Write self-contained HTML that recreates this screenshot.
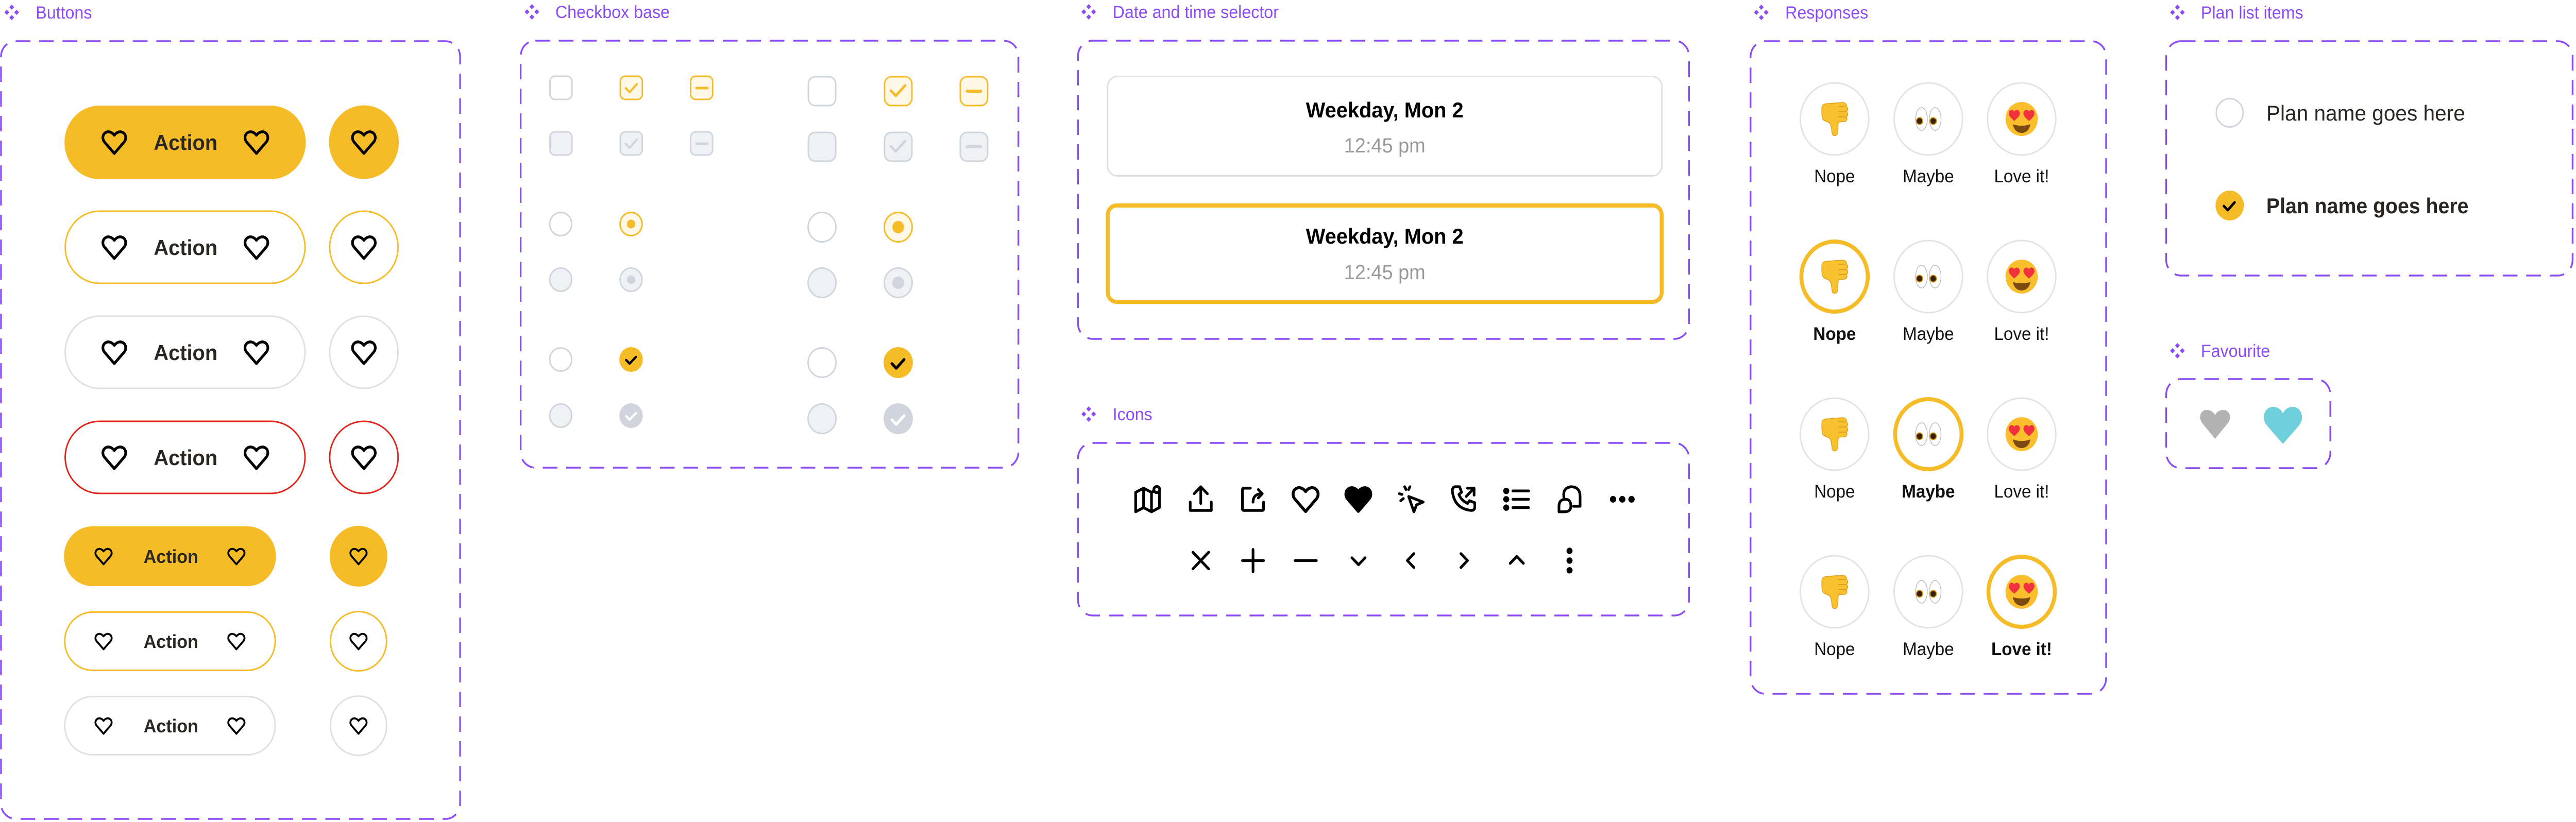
<!DOCTYPE html>
<html><head><meta charset="utf-8">
<style>
html,body{margin:0;padding:0;background:#fff;width:100%;height:100%;overflow:hidden;}
svg{display:block;position:absolute;left:0;top:0;width:100vw;height:100vh;}
text{font-family:"Liberation Sans",sans-serif;}
</style></head>
<body>
<svg viewBox="0 0 5274 1596" preserveAspectRatio="none" xmlns="http://www.w3.org/2000/svg">
<defs>
<symbol id="heart" viewBox="0 0 24 24"><path d="M12 20.5 L4.3 12 C2.3 9.8 2.6 6.5 4.8 5 C7 3.5 10 4.2 12 6.8 C14 4.2 17 3.5 19.2 5 C21.4 6.5 21.7 9.8 19.7 12 Z" fill="none" stroke="#000" stroke-width="2.1" stroke-linejoin="round"/></symbol>
<symbol id="cmp" viewBox="-16 -16 32 32"><g fill="#8b4cf7"><path d="M0 -15 L5 -10 L0 -5 L-5 -10Z"/><path d="M0 5 L5 10 L0 15 L-5 10Z"/><path d="M-15 0 L-10 -5 L-5 0 L-10 5Z"/><path d="M5 0 L10 -5 L15 0 L10 5Z"/></g></symbol>
<symbol id="thumb" viewBox="0 0 72 72">
<path d="M10 14 C10 8 16 6 24 6 L52 4 C58 4 62 8 60 12 C64 14 64 20 60 22 C64 24 64 30 60 32 C63 35 61 41 56 41 L44 42 C42 50 44 58 42 64 C40 70 32 70 31 64 C30 56 30 50 26 44 C20 40 14 40 12 36 C9 30 10 20 10 14Z" fill="#f7c12f" stroke="#e0a01a" stroke-width="1.5"/>
<path d="M44 12 L58 12 M44 22 L60 22 M44 32 L59 32" stroke="#e0a01a" stroke-width="2" fill="none"/>
</symbol>
<symbol id="eyes" viewBox="0 0 72 72">
<ellipse cx="22" cy="36" rx="12" ry="22" fill="#fff" stroke="#bbb" stroke-width="1.5"/>
<ellipse cx="50" cy="36" rx="12" ry="22" fill="#fff" stroke="#bbb" stroke-width="1.5"/>
<circle cx="18" cy="40" r="7.5" fill="#c89000"/><circle cx="18" cy="40" r="5.5" fill="#3a2000"/>
<circle cx="46" cy="40" r="7.5" fill="#c89000"/><circle cx="46" cy="40" r="5.5" fill="#3a2000"/>
</symbol>
<symbol id="love" viewBox="0 0 72 72">
<circle cx="36" cy="36" r="33" fill="#fbbf2e"/>
<path d="M21 40 C16 35 8 30 10 23 C12 17 19 17 21 22 C23 17 30 17 32 23 C34 30 26 35 21 40Z" fill="#f0323f"/>
<path d="M51 40 C46 35 38 30 40 23 C42 17 49 17 51 22 C53 17 60 17 62 23 C64 30 56 35 51 40Z" fill="#f0323f"/>
<path d="M18 46 C26 50 46 50 54 46 C52 58 44 63 36 63 C28 63 20 58 18 46Z" fill="#7a4a10"/>
</symbol>
</defs>

<g fill="none" stroke="#8b4cf7" stroke-width="3.5" stroke-dasharray="30 18">
<rect x="2" y="80" width="940" height="1510" rx="30"/>
<rect x="1066" y="79" width="1019" height="829" rx="30"/>
<rect x="2207" y="79" width="1251" height="579" rx="30"/>
<rect x="2207" y="860" width="1251" height="335" rx="30"/>
<rect x="3584" y="80" width="728" height="1267" rx="30"/>
<rect x="4435" y="80" width="832" height="455" rx="30"/>
<rect x="4435" y="736" width="336" height="173" rx="30"/>
</g>

<g font-size="34" fill="#8b4cf7">
<use href="#cmp" x="8" y="8" width="32" height="32"/><text x="73" y="36">Buttons</text>
<use href="#cmp" x="1073" y="7" width="32" height="32"/><text x="1137" y="35">Checkbox base</text>
<use href="#cmp" x="2213" y="7" width="32" height="32"/><text x="2278" y="35">Date and time selector</text>
<use href="#cmp" x="2213" y="788" width="32" height="32"/><text x="2278" y="816">Icons</text>
<use href="#cmp" x="3590" y="8" width="32" height="32"/><text x="3655" y="36">Responses</text>
<use href="#cmp" x="4442" y="8" width="32" height="32"/><text x="4506" y="36">Plan list items</text>
<use href="#cmp" x="4442" y="665" width="32" height="32"/><text x="4506" y="693">Favourite</text>
</g>

<!-- Buttons -->
<g>
<rect x="132" y="205" width="494" height="143" rx="71.5" fill="#f6bc28"/>
<circle cx="745" cy="276" r="71.5" fill="#f6bc28"/>
<rect x="133.5" y="410" width="491" height="140" rx="70" fill="none" stroke="#f6bc28" stroke-width="3"/>
<circle cx="745" cy="480" r="70" fill="none" stroke="#f6bc28" stroke-width="3"/>
<rect x="133.5" y="614" width="491" height="140" rx="70" fill="none" stroke="#e0e0e0" stroke-width="3"/>
<circle cx="745" cy="684" r="70" fill="none" stroke="#e0e0e0" stroke-width="3"/>
<rect x="133.5" y="818" width="491" height="140" rx="70" fill="none" stroke="#e0261c" stroke-width="3"/>
<circle cx="745" cy="888" r="70" fill="none" stroke="#e0261c" stroke-width="3"/>
<rect x="131" y="1022" width="434" height="116" rx="58" fill="#f6bc28"/>
<circle cx="734" cy="1080" r="59" fill="#f6bc28"/>
<rect x="132.5" y="1188.5" width="431" height="113" rx="56.5" fill="none" stroke="#f6bc28" stroke-width="3"/>
<circle cx="734" cy="1245" r="57.5" fill="none" stroke="#f6bc28" stroke-width="3"/>
<rect x="132.5" y="1352.5" width="431" height="113" rx="56.5" fill="none" stroke="#e0e0e0" stroke-width="3"/>
<circle cx="734" cy="1409" r="57.5" fill="none" stroke="#e0e0e0" stroke-width="3"/>
<g font-size="42" font-weight="bold" fill="#2a2622" text-anchor="middle">
<text x="380" y="291">Action</text><text x="380" y="495">Action</text><text x="380" y="699">Action</text><text x="380" y="903">Action</text>
</g>
<g font-size="36" font-weight="bold" fill="#2a2622" text-anchor="middle">
<text x="350" y="1093">Action</text><text x="350" y="1258">Action</text><text x="350" y="1422">Action</text>
</g>
<use href="#heart" x="203" y="245" width="62" height="62"/><use href="#heart" x="494" y="245" width="62" height="62"/><use href="#heart" x="714" y="245" width="62" height="62"/>
<use href="#heart" x="203" y="449" width="62" height="62"/><use href="#heart" x="494" y="449" width="62" height="62"/><use href="#heart" x="714" y="449" width="62" height="62"/>
<use href="#heart" x="203" y="653" width="62" height="62"/><use href="#heart" x="494" y="653" width="62" height="62"/><use href="#heart" x="714" y="653" width="62" height="62"/>
<use href="#heart" x="203" y="857" width="62" height="62"/><use href="#heart" x="494" y="857" width="62" height="62"/><use href="#heart" x="714" y="857" width="62" height="62"/>
<use href="#heart" x="190" y="1058" width="44" height="44"/><use href="#heart" x="462" y="1058" width="44" height="44"/><use href="#heart" x="712" y="1058" width="44" height="44"/>
<use href="#heart" x="190" y="1223" width="44" height="44"/><use href="#heart" x="462" y="1223" width="44" height="44"/><use href="#heart" x="712" y="1223" width="44" height="44"/>
<use href="#heart" x="190" y="1387" width="44" height="44"/><use href="#heart" x="462" y="1387" width="44" height="44"/><use href="#heart" x="712" y="1387" width="44" height="44"/>
</g>

<!-- Checkboxes small -->
<g stroke-width="3">
<rect x="1126" y="148" width="45" height="45" rx="10" fill="#fff" stroke="#d0d5dd"/>
<rect x="1270" y="148" width="45" height="45" rx="10" fill="#fff8e6" stroke="#f6bc28"/>
<path d="M1281 171 l8 8 l15 -16" fill="none" stroke="#f6bc28" stroke-width="4" stroke-linecap="round" stroke-linejoin="round"/>
<rect x="1414" y="148" width="45" height="45" rx="10" fill="#fff8e6" stroke="#f6bc28"/>
<path d="M1426 171 h22" stroke="#f6bc28" stroke-width="5" stroke-linecap="round"/>
<rect x="1126" y="256" width="45" height="45" rx="10" fill="#f0f1f4" stroke="#d0d5dd"/>
<rect x="1270" y="256" width="45" height="45" rx="10" fill="#f0f1f4" stroke="#d0d5dd"/>
<path d="M1281 279 l8 8 l15 -16" fill="none" stroke="#d0d5dd" stroke-width="4" stroke-linecap="round" stroke-linejoin="round"/>
<rect x="1414" y="256" width="45" height="45" rx="10" fill="#f0f1f4" stroke="#d0d5dd"/>
<path d="M1426 279 h22" stroke="#d0d5dd" stroke-width="5" stroke-linecap="round"/>
<circle cx="1148" cy="435" r="22.5" fill="#fff" stroke="#d0d5dd"/>
<circle cx="1292" cy="435" r="22.5" fill="#fff8e6" stroke="#f6bc28"/><circle cx="1292" cy="435" r="8.5" fill="#f6bc28" stroke="none"/>
<circle cx="1148" cy="543" r="22.5" fill="#f0f1f4" stroke="#d0d5dd"/>
<circle cx="1292" cy="543" r="22.5" fill="#f0f1f4" stroke="#d0d5dd"/><circle cx="1292" cy="543" r="8.5" fill="#d0d5dd" stroke="none"/>
<circle cx="1148" cy="698" r="22.5" fill="#fff" stroke="#d0d5dd"/>
<circle cx="1292" cy="698" r="24" fill="#f6bc28" stroke="none"/>
<path d="M1282 699 l7 7 l13 -13" fill="none" stroke="#000" stroke-width="4.5" stroke-linecap="round" stroke-linejoin="round"/>
<circle cx="1148" cy="807" r="22.5" fill="#f0f1f4" stroke="#d0d5dd"/>
<circle cx="1292" cy="807" r="24" fill="#d0d5dd" stroke="none"/>
<path d="M1282 808 l7 7 l13 -13" fill="none" stroke="#fff" stroke-width="4.5" stroke-linecap="round" stroke-linejoin="round"/>
</g>
<!-- Checkboxes large -->
<g stroke-width="3">
<rect x="1655" y="149" width="56" height="56" rx="14" fill="#fff" stroke="#d0d5dd"/>
<rect x="1811" y="149" width="56" height="56" rx="14" fill="#fff8e6" stroke="#f6bc28"/>
<path d="M1824 176 l10 10 l19 -20" fill="none" stroke="#f6bc28" stroke-width="5" stroke-linecap="round" stroke-linejoin="round"/>
<rect x="1966" y="149" width="56" height="56" rx="14" fill="#fff8e6" stroke="#f6bc28"/>
<path d="M1980 177 h28" stroke="#f6bc28" stroke-width="6" stroke-linecap="round"/>
<rect x="1655" y="257" width="56" height="56" rx="14" fill="#f0f1f4" stroke="#d0d5dd"/>
<rect x="1811" y="257" width="56" height="56" rx="14" fill="#f0f1f4" stroke="#d0d5dd"/>
<path d="M1824 284 l10 10 l19 -20" fill="none" stroke="#d0d5dd" stroke-width="5" stroke-linecap="round" stroke-linejoin="round"/>
<rect x="1966" y="257" width="56" height="56" rx="14" fill="#f0f1f4" stroke="#d0d5dd"/>
<path d="M1980 285 h28" stroke="#d0d5dd" stroke-width="6" stroke-linecap="round"/>
<circle cx="1683" cy="441" r="28.5" fill="#fff" stroke="#d0d5dd"/>
<circle cx="1839" cy="441" r="28.5" fill="#fff8e6" stroke="#f6bc28"/><circle cx="1839" cy="441" r="12" fill="#f6bc28" stroke="none"/>
<circle cx="1683" cy="549" r="28.5" fill="#f0f1f4" stroke="#d0d5dd"/>
<circle cx="1839" cy="549" r="28.5" fill="#f0f1f4" stroke="#d0d5dd"/><circle cx="1839" cy="549" r="12" fill="#d0d5dd" stroke="none"/>
<circle cx="1683" cy="704" r="28.5" fill="#fff" stroke="#d0d5dd"/>
<circle cx="1839" cy="704" r="30" fill="#f6bc28" stroke="none"/>
<path d="M1826 706 l9 9 l16 -17" fill="none" stroke="#000" stroke-width="5.5" stroke-linecap="round" stroke-linejoin="round"/>
<circle cx="1683" cy="813" r="28.5" fill="#f0f1f4" stroke="#d0d5dd"/>
<circle cx="1839" cy="813" r="30" fill="#d0d5dd" stroke="none"/>
<path d="M1826 815 l9 9 l16 -17" fill="none" stroke="#fff" stroke-width="5.5" stroke-linecap="round" stroke-linejoin="round"/>
</g>

<!-- Date selector -->
<rect x="2267.5" y="148.5" width="1135" height="193" rx="20" fill="#fff" stroke="#e0e0e0" stroke-width="3"/>
<rect x="2268" y="399" width="1134" height="187" rx="18" fill="#fff" stroke="#f6bc28" stroke-width="8"/>
<g text-anchor="middle">
<text x="2835" y="228" font-size="42" font-weight="bold" fill="#000">Weekday, Mon 2</text>
<text x="2835" y="296" font-size="40" fill="#999">12:45 pm</text>
<text x="2835" y="473" font-size="42" font-weight="bold" fill="#000">Weekday, Mon 2</text>
<text x="2835" y="542" font-size="40" fill="#999">12:45 pm</text>
</g>

<!-- Icons -->
<g fill="none" stroke="#000" stroke-width="2" stroke-linecap="round" stroke-linejoin="round">
<g transform="translate(2317,937) scale(2.7)"><path d="M3 7 L9 4 L15 7 L21 4 L21 18 L15 21 L9 18 L3 21Z M9 4 V18 M15 7 V21"/><circle cx="19" cy="5" r="2.2" fill="#fff"/></g>
<g transform="translate(2426,937) scale(2.7)"><path d="M12 15 V3 M7 8 L12 3 L17 8 M4 14 V20 H20 V14"/></g>
<g transform="translate(2533,937) scale(2.7)"><path d="M10 4 H5 Q4 4 4 5 V19 Q4 20 5 20 H19 Q20 20 20 19 V14 M12 14 Q12 8 19 8 M16 5 L19 8 L16 11"/></g>
<use href="#heart" x="2639" y="935" width="68" height="68"/>
<g transform="translate(2747,935) scale(2.83)"><path d="M12 20.5 L4.3 12 C2.3 9.8 2.6 6.5 4.8 5 C7 3.5 10 4.2 12 6.8 C14 4.2 17 3.5 19.2 5 C21.4 6.5 21.7 9.8 19.7 12 Z" fill="#000"/></g>
<g transform="translate(2857,937) scale(2.7)"><path d="M10 10 L21 14 L16 16 L14 21Z M7 3 L8 5 M3 8 L5 8.5 M11 3 L10 5 M4 13 L6 11.5"/></g>
<g transform="translate(2964,937) scale(2.7)"><path d="M6 3 L9 3 L10.5 7 L8.5 8.5 Q10 12.5 15 15 L16.5 13 L20.5 14.5 L20.5 17.5 Q20.5 20 18 20 Q5 19 3.5 6 Q3.5 3 6 3Z M14 10 L20 4 M15 4 H20 V9"/></g>
<g transform="translate(3073,937) scale(2.7)"><path d="M9 6 H21 M9 12 H21 M9 18 H21"/><circle cx="4" cy="6" r="1.3" fill="#000"/><circle cx="4" cy="12" r="1.3" fill="#000"/><circle cx="4" cy="18" r="1.3" fill="#000"/></g>
<g transform="translate(3181,937) scale(2.7)"><path d="M8 12 Q6 4 13 3 Q20 3 20 10 V17 H15 M9 12 Q4 12 4 17 V21 H8 Q13 21 13 17 Q13 12 9 12Z"/></g>
<g transform="translate(3289,937) scale(2.7)"><circle cx="5" cy="12" r="1.4" fill="#000"/><circle cx="12" cy="12" r="1.4" fill="#000"/><circle cx="19" cy="12" r="1.4" fill="#000"/></g>
<g transform="translate(2426,1056) scale(2.7)"><path d="M6 6 L18 18 M18 6 L6 18"/></g>
<g transform="translate(2533,1056) scale(2.7)"><path d="M12 4 V20 M4 12 H20"/></g>
<g transform="translate(2641,1056) scale(2.7)"><path d="M4 12 H20"/></g>
<g transform="translate(2749,1056) scale(2.7)"><path d="M7 10 L12 15 L17 10"/></g>
<g transform="translate(2857,1056) scale(2.7)"><path d="M14 7 L9 12 L14 17"/></g>
<g transform="translate(2964,1056) scale(2.7)"><path d="M10 7 L15 12 L10 17"/></g>
<g transform="translate(3073,1056) scale(2.7)"><path d="M7 14 L12 9 L17 14"/></g>
<g transform="translate(3181,1056) scale(2.7)"><circle cx="12" cy="5" r="1.3" fill="#000"/><circle cx="12" cy="12" r="1.3" fill="#000"/><circle cx="12" cy="19" r="1.3" fill="#000"/></g>
</g>

<!-- Responses -->
<g fill="#fff" stroke="#e3e3e3" stroke-width="3">
<circle cx="3756" cy="231" r="70"/><circle cx="3948" cy="231" r="70"/><circle cx="4139" cy="231" r="70"/>
<circle cx="3948" cy="537" r="70"/><circle cx="4139" cy="537" r="70"/>
<circle cx="3756" cy="843" r="70"/><circle cx="4139" cy="843" r="70"/>
<circle cx="3756" cy="1149" r="70"/><circle cx="3948" cy="1149" r="70"/>
</g>
<g fill="#fff" stroke="#f6bc28" stroke-width="8">
<circle cx="3756" cy="537" r="68"/><circle cx="3948" cy="843" r="68"/><circle cx="4139" cy="1149" r="68"/>
</g>
<use href="#thumb" x="3720" y="195" width="72" height="72"/><use href="#eyes" x="3912" y="195" width="72" height="72"/><use href="#love" x="4103" y="195" width="72" height="72"/>
<use href="#thumb" x="3720" y="501" width="72" height="72"/><use href="#eyes" x="3912" y="501" width="72" height="72"/><use href="#love" x="4103" y="501" width="72" height="72"/>
<use href="#thumb" x="3720" y="807" width="72" height="72"/><use href="#eyes" x="3912" y="807" width="72" height="72"/><use href="#love" x="4103" y="807" width="72" height="72"/>
<use href="#thumb" x="3720" y="1113" width="72" height="72"/><use href="#eyes" x="3912" y="1113" width="72" height="72"/><use href="#love" x="4103" y="1113" width="72" height="72"/>
<g font-size="35" fill="#111" text-anchor="middle">
<text x="3756" y="354">Nope</text><text x="3948" y="354">Maybe</text><text x="4139" y="354">Love it!</text>
<text x="3756" y="660" font-weight="bold">Nope</text><text x="3948" y="660">Maybe</text><text x="4139" y="660">Love it!</text>
<text x="3756" y="966">Nope</text><text x="3948" y="966" font-weight="bold">Maybe</text><text x="4139" y="966">Love it!</text>
<text x="3756" y="1272">Nope</text><text x="3948" y="1272">Maybe</text><text x="4139" y="1272" font-weight="bold">Love it!</text>
</g>

<!-- Plan list -->
<circle cx="4565" cy="219" r="27.5" fill="#fff" stroke="#d0d5dd" stroke-width="3"/>
<circle cx="4565" cy="399" r="29" fill="#f6bc28"/>
<path d="M4553 400 l8 8 l14 -15" fill="none" stroke="#000" stroke-width="5" stroke-linecap="round" stroke-linejoin="round"/>
<text x="4640" y="234" font-size="42" fill="#2a2622" textLength="407" lengthAdjust="spacingAndGlyphs">Plan name goes here</text>
<text x="4640" y="414" font-size="42" font-weight="bold" fill="#2a2622" textLength="414" lengthAdjust="spacingAndGlyphs">Plan name goes here</text>

<!-- Favourite -->
<path d="M4535 852 L4509 822 C4500 811 4505 796 4518 796 C4526 796 4532 800 4535 806 C4538 800 4544 796 4552 796 C4565 796 4570 811 4561 822Z" fill="#b3b3b3"/>
<path d="M4674 862 L4641 826 C4629 812 4636 790 4654 790 C4664 790 4671 796 4674 803 C4677 796 4684 790 4694 790 C4712 790 4719 812 4707 826Z" fill="#6fcfdc"/>
</svg>
</body></html>
